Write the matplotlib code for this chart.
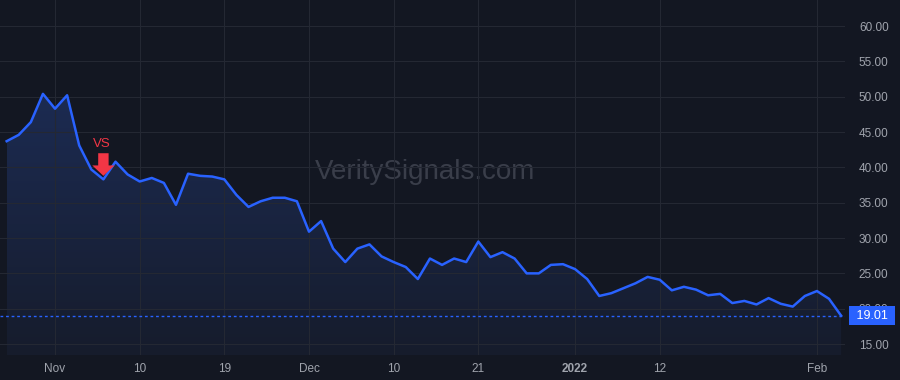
import matplotlib
matplotlib.use('Agg')
import matplotlib.pyplot as plt
import numpy as np
from matplotlib.patches import Polygon
from matplotlib.transforms import blended_transform_factory

plt.rcParams['font.family'] = ['Liberation Sans', 'DejaVu Sans']

# daily closes, Oct 26 2021 .. Feb 3 2022 (trading days)
closes = [43.7, 44.6, 46.4, 50.4, 48.3, 50.2, 43.1, 39.7, 38.3, 40.8,
          39.0, 38.0, 38.5, 37.8, 34.7, 39.1, 38.8, 38.7, 38.3, 36.1,
          34.4, 35.2, 35.7, 35.7, 35.2, 30.9, 32.4, 28.5, 26.6, 28.5,
          29.1, 27.4, 26.6, 25.9, 24.2, 27.1, 26.2, 27.1, 26.6, 29.5,
          27.3, 28.0, 27.1, 25.0, 25.0, 26.2, 26.3, 25.6, 24.2, 21.8,
          22.2, 22.9, 23.6, 24.5, 24.1, 22.6, 23.1, 22.7, 21.9, 22.1,
          20.8, 21.1, 20.6, 21.5, 20.7, 20.3, 21.8, 22.5, 21.4, 19.01]
tick_idx = [4, 11, 18, 25, 32, 39, 47, 54, 67]
tick_lbl = ['Nov', '10', '19', 'Dec', '10', '21', '2022', '12', 'Feb']
y_ticks = [15, 20, 25, 30, 35, 40, 45, 50, 55, 60]
signal_idx = 8
signal_text = 'VS'
last_price = 19.01
watermark = 'VeritySignals.com'

bg = '#131722'
grid_c = '#242833'
line_c = '#2962ff'
txt_c = '#a0a4ad'

x = np.arange(len(closes))
y = np.array(closes)

fig = plt.figure(figsize=(9, 3.8), dpi=100, facecolor=bg)
ax = fig.add_axes([0, 1 - 355 / 380, 845 / 900, 355 / 380])
ax.set_facecolor(bg)
ax.set_xlim(-0.55, 69.32)
ax.set_ylim(13.45, 63.68)

# gradient under the line
ymin, ymax = ax.get_ylim()
grad = np.linspace(0, 1, 256).reshape(-1, 1)
cmap = matplotlib.colors.LinearSegmentedColormap.from_list('g', ['#161c2c', '#1c2b52'])
im = ax.imshow(grad, cmap=cmap, aspect='auto', origin='lower',
               extent=[x[0], x[-1], ymin, y.max()], zorder=1)
poly = Polygon(np.column_stack([np.r_[x[0], x, x[-1]], np.r_[ymin, y, ymin]]),
               closed=True, transform=ax.transData, facecolor='none', edgecolor='none')
ax.add_patch(poly)
im.set_clip_path(poly)

ax.plot(x, y, color=line_c, lw=1.8, zorder=3)
ax.axhline(last_price, color=line_c, lw=1, linestyle=(0, (2, 2)), zorder=2)

ax.set_xticks(tick_idx)
ax.set_xticklabels(tick_lbl)
for t in ax.get_xticklabels():
    if t.get_text() == '2022':
        t.set_fontweight('bold')
ax.set_yticks(y_ticks)
ax.set_yticklabels(['%.2f' % v for v in y_ticks])
ax.yaxis.tick_right()
ax.tick_params(axis='both', length=0, colors=txt_c, labelsize=8.5)
ax.tick_params(axis='x', pad=6)
ax.tick_params(axis='y', pad=10)
ax.grid(True, color=grid_c, lw=0.8, zorder=0)
for s in ax.spines.values():
    s.set_visible(False)

# watermark
ax.text(0.503, 0.515, watermark, transform=ax.transAxes, ha='center', va='center',
        fontsize=20, color='#3a3e4a', zorder=0)

# signal marker
ax.text(signal_idx - 0.15, closes[signal_idx] + 5.0, signal_text, color='#f23645',
        ha='center', va='center', fontsize=9.5, zorder=4)
ax.annotate('', xy=(signal_idx, closes[signal_idx] + 0.5),
            xytext=(signal_idx, closes[signal_idx] + 3.7),
            arrowprops=dict(facecolor='#f23645', edgecolor='none', width=7.5,
                            headwidth=16, headlength=7.5), zorder=4)

# last price label
tr = blended_transform_factory(ax.transAxes, ax.transData)
ax.text(1.0 + 8 / 845, last_price, ' %.2f ' % last_price, transform=tr, ha='left', va='center',
        color='white', fontsize=9, clip_on=False,
        bbox=dict(boxstyle='square,pad=0.3', facecolor=line_c, edgecolor='none'), zorder=5)

fig.savefig('out.png', dpi=100, facecolor=bg)
